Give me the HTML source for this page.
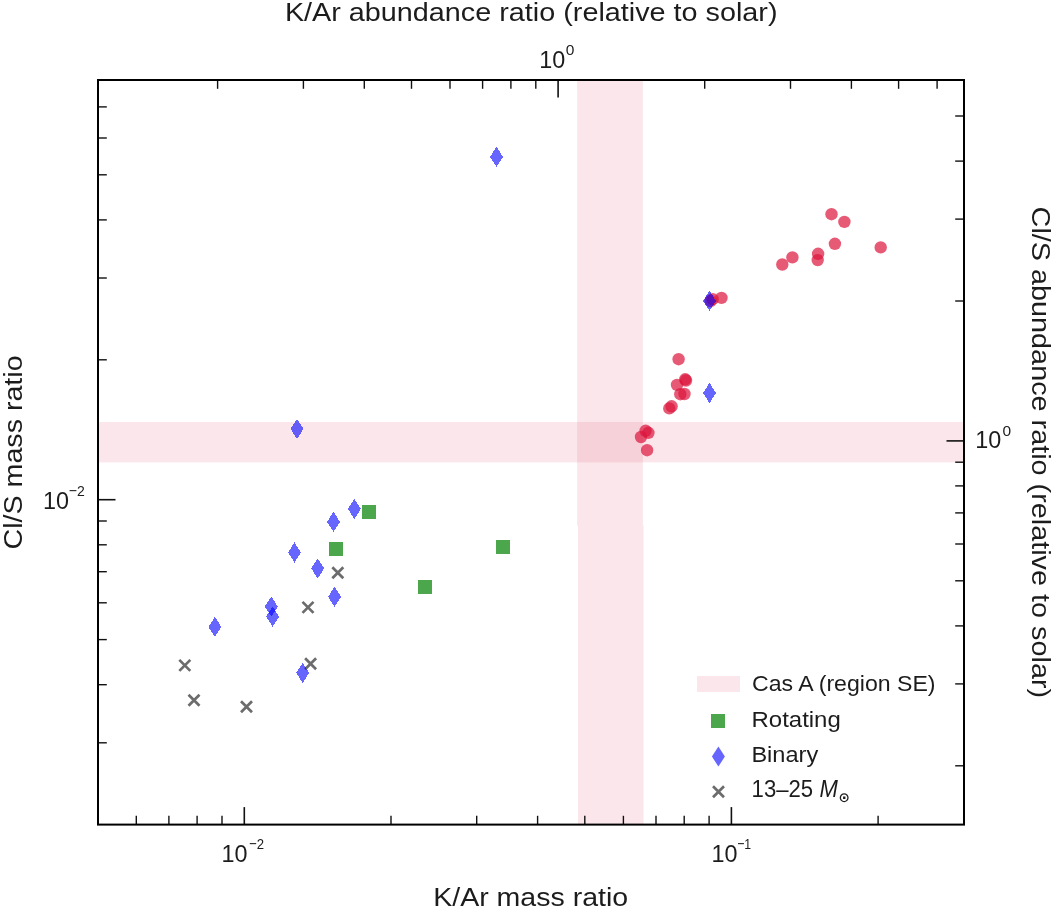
<!DOCTYPE html>
<html lang="en"><head><meta charset="utf-8"><title>K/Ar vs Cl/S</title>
<style>html,body{margin:0;padding:0;background:#fff}body{width:1053px;height:910px;overflow:hidden}svg{will-change:transform}</style></head>
<body>
<svg width="1053" height="910" viewBox="0 0 1053 910" style="display:block">
<rect width="1053" height="910" fill="#fff"/>
<rect x="577.1" y="80.0" width="65.8" height="445.6" fill="rgba(220,20,60,0.10)"/>
<rect x="578.0" y="525.6" width="65.6" height="299.0" fill="rgba(220,20,60,0.10)"/>
<rect x="98.0" y="422.0" width="866.0" height="40.4" fill="rgba(220,20,60,0.10)"/>
<g id="circles"><circle cx="721.5" cy="297.9" r="6.2" fill="rgba(220,20,60,0.7)"/><circle cx="712.6" cy="299.2" r="6.2" fill="rgba(220,20,60,0.7)"/><circle cx="710.6" cy="301.0" r="6.2" fill="rgba(220,20,60,0.7)"/><circle cx="678.6" cy="359.2" r="6.2" fill="rgba(220,20,60,0.7)"/><circle cx="685.2" cy="379.3" r="6.2" fill="rgba(220,20,60,0.7)"/><circle cx="686.0" cy="380.5" r="6.2" fill="rgba(220,20,60,0.7)"/><circle cx="677.0" cy="384.9" r="6.2" fill="rgba(220,20,60,0.7)"/><circle cx="680.3" cy="394.2" r="6.2" fill="rgba(220,20,60,0.7)"/><circle cx="684.5" cy="394.0" r="6.2" fill="rgba(220,20,60,0.7)"/><circle cx="669.3" cy="408.4" r="6.2" fill="rgba(220,20,60,0.7)"/><circle cx="671.6" cy="406.3" r="6.2" fill="rgba(220,20,60,0.7)"/><circle cx="645.6" cy="430.8" r="6.2" fill="rgba(220,20,60,0.7)"/><circle cx="648.4" cy="432.8" r="6.2" fill="rgba(220,20,60,0.7)"/><circle cx="641.0" cy="437.0" r="6.2" fill="rgba(220,20,60,0.7)"/><circle cx="647.1" cy="450.2" r="6.2" fill="rgba(220,20,60,0.7)"/><circle cx="831.5" cy="214.2" r="6.2" fill="rgba(220,20,60,0.7)"/><circle cx="844.4" cy="221.9" r="6.2" fill="rgba(220,20,60,0.7)"/><circle cx="834.9" cy="243.8" r="6.2" fill="rgba(220,20,60,0.7)"/><circle cx="880.7" cy="247.4" r="6.2" fill="rgba(220,20,60,0.7)"/><circle cx="818.1" cy="253.8" r="6.2" fill="rgba(220,20,60,0.7)"/><circle cx="817.7" cy="260.1" r="6.2" fill="rgba(220,20,60,0.7)"/><circle cx="792.4" cy="257.4" r="6.2" fill="rgba(220,20,60,0.7)"/><circle cx="782.3" cy="264.5" r="6.2" fill="rgba(220,20,60,0.7)"/></g>
<g id="crosses"><path d="M332.3 567.3L343.3 578.3M332.3 578.3L343.3 567.3" stroke="#6c6c6c" stroke-width="2.7" fill="none"/><path d="M302.5 601.9L313.5 612.9M302.5 612.9L313.5 601.9" stroke="#6c6c6c" stroke-width="2.7" fill="none"/><path d="M305.1 658.3L316.1 669.3M305.1 669.3L316.1 658.3" stroke="#6c6c6c" stroke-width="2.7" fill="none"/><path d="M179.3 659.9L190.3 670.9M179.3 670.9L190.3 659.9" stroke="#6c6c6c" stroke-width="2.7" fill="none"/><path d="M188.5 694.7L199.5 705.7M188.5 705.7L199.5 694.7" stroke="#6c6c6c" stroke-width="2.7" fill="none"/><path d="M241.0 701.3L252.0 712.3M241.0 712.3L252.0 701.3" stroke="#6c6c6c" stroke-width="2.7" fill="none"/></g>
<g id="squares"><rect x="362.0" y="505.0" width="14" height="14" fill="rgba(0,128,0,0.7)"/><rect x="329.0" y="542.0" width="14" height="14" fill="rgba(0,128,0,0.7)"/><rect x="418.0" y="580.0" width="14" height="14" fill="rgba(0,128,0,0.7)"/><rect x="496.0" y="540.0" width="14" height="14" fill="rgba(0,128,0,0.7)"/></g>
<g id="diamonds" shape-rendering="crispEdges"><path d="M354.4 498.8L360.9 508.9L354.4 519.0L347.9 508.9Z" fill="rgba(0,0,255,0.6)"/><path d="M333.5 511.8L340.0 521.9L333.5 532.0L327.0 521.9Z" fill="rgba(0,0,255,0.6)"/><path d="M294.5 542.4L301.0 552.5L294.5 562.6L288.0 552.5Z" fill="rgba(0,0,255,0.6)"/><path d="M317.7 558.3L324.2 568.4L317.7 578.5L311.2 568.4Z" fill="rgba(0,0,255,0.6)"/><path d="M334.6 586.7L341.1 596.8L334.6 606.9L328.1 596.8Z" fill="rgba(0,0,255,0.6)"/><path d="M271.3 596.5L277.8 606.6L271.3 616.7L264.8 606.6Z" fill="rgba(0,0,255,0.6)"/><path d="M272.6 606.5L279.1 616.6L272.6 626.7L266.1 616.6Z" fill="rgba(0,0,255,0.6)"/><path d="M214.9 616.8L221.4 626.9L214.9 637.0L208.4 626.9Z" fill="rgba(0,0,255,0.6)"/><path d="M302.7 662.7L309.2 672.8L302.7 682.9L296.2 672.8Z" fill="rgba(0,0,255,0.6)"/><path d="M496.5 146.8L503.0 156.9L496.5 167.0L490.0 156.9Z" fill="rgba(0,0,255,0.6)"/><path d="M297.0 418.8L303.5 428.9L297.0 439.0L290.5 428.9Z" fill="rgba(0,0,255,0.6)"/><path d="M709.5 290.8L716.0 300.9L709.5 311.0L703.0 300.9Z" fill="rgba(0,0,255,0.6)"/><path d="M709.5 382.9L716.0 393.0L709.5 403.1L703.0 393.0Z" fill="rgba(0,0,255,0.6)"/></g>
<g id="ticks"><line x1="136.3" x2="136.3" y1="824.6" y2="815.8" stroke="#111" stroke-width="1.4"/><line x1="168.9" x2="168.9" y1="824.6" y2="815.8" stroke="#111" stroke-width="1.4"/><line x1="197.1" x2="197.1" y1="824.6" y2="815.8" stroke="#111" stroke-width="1.4"/><line x1="222.0" x2="222.0" y1="824.6" y2="815.8" stroke="#111" stroke-width="1.4"/><line x1="391.0" x2="391.0" y1="824.6" y2="815.8" stroke="#111" stroke-width="1.4"/><line x1="476.7" x2="476.7" y1="824.6" y2="815.8" stroke="#111" stroke-width="1.4"/><line x1="537.6" x2="537.6" y1="824.6" y2="815.8" stroke="#111" stroke-width="1.4"/><line x1="584.8" x2="584.8" y1="824.6" y2="815.8" stroke="#111" stroke-width="1.4"/><line x1="623.4" x2="623.4" y1="824.6" y2="815.8" stroke="#111" stroke-width="1.4"/><line x1="656.0" x2="656.0" y1="824.6" y2="815.8" stroke="#111" stroke-width="1.4"/><line x1="684.2" x2="684.2" y1="824.6" y2="815.8" stroke="#111" stroke-width="1.4"/><line x1="709.1" x2="709.1" y1="824.6" y2="815.8" stroke="#111" stroke-width="1.4"/><line x1="878.1" x2="878.1" y1="824.6" y2="815.8" stroke="#111" stroke-width="1.4"/><line x1="244.3" x2="244.3" y1="824.6" y2="807.1" stroke="#111" stroke-width="1.6"/><line x1="731.4" x2="731.4" y1="824.6" y2="807.1" stroke="#111" stroke-width="1.6"/><line x1="217.6" x2="217.6" y1="80.0" y2="88.8" stroke="#111" stroke-width="1.4"/><line x1="303.4" x2="303.4" y1="80.0" y2="88.8" stroke="#111" stroke-width="1.4"/><line x1="364.3" x2="364.3" y1="80.0" y2="88.8" stroke="#111" stroke-width="1.4"/><line x1="411.5" x2="411.5" y1="80.0" y2="88.8" stroke="#111" stroke-width="1.4"/><line x1="450.0" x2="450.0" y1="80.0" y2="88.8" stroke="#111" stroke-width="1.4"/><line x1="482.6" x2="482.6" y1="80.0" y2="88.8" stroke="#111" stroke-width="1.4"/><line x1="510.9" x2="510.9" y1="80.0" y2="88.8" stroke="#111" stroke-width="1.4"/><line x1="535.8" x2="535.8" y1="80.0" y2="88.8" stroke="#111" stroke-width="1.4"/><line x1="704.7" x2="704.7" y1="80.0" y2="88.8" stroke="#111" stroke-width="1.4"/><line x1="790.5" x2="790.5" y1="80.0" y2="88.8" stroke="#111" stroke-width="1.4"/><line x1="851.4" x2="851.4" y1="80.0" y2="88.8" stroke="#111" stroke-width="1.4"/><line x1="898.6" x2="898.6" y1="80.0" y2="88.8" stroke="#111" stroke-width="1.4"/><line x1="937.1" x2="937.1" y1="80.0" y2="88.8" stroke="#111" stroke-width="1.4"/><line x1="558.1" x2="558.1" y1="80.0" y2="97.5" stroke="#111" stroke-width="1.6"/><line y1="742.8" y2="742.8" x1="98.0" x2="106.8" stroke="#111" stroke-width="1.4"/><line y1="684.7" y2="684.7" x1="98.0" x2="106.8" stroke="#111" stroke-width="1.4"/><line y1="639.6" y2="639.6" x1="98.0" x2="106.8" stroke="#111" stroke-width="1.4"/><line y1="602.8" y2="602.8" x1="98.0" x2="106.8" stroke="#111" stroke-width="1.4"/><line y1="571.7" y2="571.7" x1="98.0" x2="106.8" stroke="#111" stroke-width="1.4"/><line y1="544.8" y2="544.8" x1="98.0" x2="106.8" stroke="#111" stroke-width="1.4"/><line y1="521.0" y2="521.0" x1="98.0" x2="106.8" stroke="#111" stroke-width="1.4"/><line y1="359.8" y2="359.8" x1="98.0" x2="106.8" stroke="#111" stroke-width="1.4"/><line y1="278.0" y2="278.0" x1="98.0" x2="106.8" stroke="#111" stroke-width="1.4"/><line y1="219.9" y2="219.9" x1="98.0" x2="106.8" stroke="#111" stroke-width="1.4"/><line y1="174.8" y2="174.8" x1="98.0" x2="106.8" stroke="#111" stroke-width="1.4"/><line y1="138.0" y2="138.0" x1="98.0" x2="106.8" stroke="#111" stroke-width="1.4"/><line y1="106.9" y2="106.9" x1="98.0" x2="106.8" stroke="#111" stroke-width="1.4"/><line y1="499.7" y2="499.7" x1="98.0" x2="115.5" stroke="#111" stroke-width="1.6"/><line y1="765.8" y2="765.8" x1="964.0" x2="955.2" stroke="#111" stroke-width="1.4"/><line y1="683.9" y2="683.9" x1="964.0" x2="955.2" stroke="#111" stroke-width="1.4"/><line y1="625.9" y2="625.9" x1="964.0" x2="955.2" stroke="#111" stroke-width="1.4"/><line y1="580.8" y2="580.8" x1="964.0" x2="955.2" stroke="#111" stroke-width="1.4"/><line y1="544.0" y2="544.0" x1="964.0" x2="955.2" stroke="#111" stroke-width="1.4"/><line y1="512.9" y2="512.9" x1="964.0" x2="955.2" stroke="#111" stroke-width="1.4"/><line y1="485.9" y2="485.9" x1="964.0" x2="955.2" stroke="#111" stroke-width="1.4"/><line y1="462.2" y2="462.2" x1="964.0" x2="955.2" stroke="#111" stroke-width="1.4"/><line y1="301.0" y2="301.0" x1="964.0" x2="955.2" stroke="#111" stroke-width="1.4"/><line y1="219.1" y2="219.1" x1="964.0" x2="955.2" stroke="#111" stroke-width="1.4"/><line y1="161.1" y2="161.1" x1="964.0" x2="955.2" stroke="#111" stroke-width="1.4"/><line y1="116.0" y2="116.0" x1="964.0" x2="955.2" stroke="#111" stroke-width="1.4"/><line y1="440.9" y2="440.9" x1="964.0" x2="946.5" stroke="#111" stroke-width="1.6"/></g>
<rect x="98.0" y="80.0" width="866.0" height="744.6" fill="none" stroke="#000" stroke-width="2"/>
<rect x="697" y="676" width="43" height="16" fill="rgba(220,20,60,0.10)"/>
<rect x="711.0" y="714.0" width="14" height="14" fill="rgba(0,128,0,0.7)"/>
<path d="M718.4 746.4L724.9 756.5L718.4 766.6L711.9 756.5Z" fill="rgba(0,0,255,0.6)"/>
<path d="M713.0 786.3L724.0 797.3M713.0 797.3L724.0 786.3" stroke="#6c6c6c" stroke-width="2.7" fill="none"/>
<g font-family='"Liberation Sans", Arial, sans-serif' fill="#1c1c1c">
<text x="752.0" y="691.2" font-size="22" text-anchor="start" textLength="183.5" lengthAdjust="spacingAndGlyphs" >Cas A (region SE)</text>
<text x="751.5" y="726.9" font-size="22" text-anchor="start" textLength="89.3" lengthAdjust="spacingAndGlyphs" >Rotating</text>
<text x="751.4" y="761.8" font-size="22" text-anchor="start" textLength="66.8" lengthAdjust="spacingAndGlyphs" >Binary</text>
<text x="751.6" y="797.0" font-size="23.5"><tspan textLength="61.5" lengthAdjust="spacingAndGlyphs">13–25</tspan><tspan dx="6.3" font-style="italic" textLength="18.4" lengthAdjust="spacingAndGlyphs">M</tspan><tspan dx="0.6" dy="5.4" font-size="13.5" font-weight="bold" font-family="DejaVu Sans, sans-serif">⊙</tspan></text>
<text x="284.9" y="20.8" font-size="26.5" text-anchor="start" textLength="492.6" lengthAdjust="spacingAndGlyphs" >K/Ar abundance ratio (relative to solar)</text>
<text x="433.2" y="905.5" font-size="26.5" text-anchor="start" textLength="195.0" lengthAdjust="spacingAndGlyphs" >K/Ar mass ratio</text>
<g transform="translate(21.8,549.4) rotate(-90)"><text x="0.0" y="0.0" font-size="26.5" text-anchor="start" textLength="194.0" lengthAdjust="spacingAndGlyphs" >Cl/S mass ratio</text></g>
<g transform="translate(1031.8,206.6) rotate(90)"><text x="0.0" y="0.0" font-size="26.5" text-anchor="start" textLength="491.5" lengthAdjust="spacingAndGlyphs" >Cl/S abundance ratio (relative to solar)</text></g>
<text x="221.5" y="862.0" font-size="23.5" textLength="26.0" lengthAdjust="spacingAndGlyphs">10</text><text x="249.0" y="849.0" font-size="15.5" textLength="15.0" lengthAdjust="spacingAndGlyphs">−2</text>
<text x="711.4" y="862.0" font-size="23.5" textLength="26.0" lengthAdjust="spacingAndGlyphs">10</text><text x="737.2" y="849.0" font-size="15.5" textLength="14.0" lengthAdjust="spacingAndGlyphs">−1</text>
<text x="539.2" y="68.0" font-size="23.5" textLength="26.0" lengthAdjust="spacingAndGlyphs">10</text><text x="565.8" y="54.7" font-size="15.5">0</text>
<text x="42.9" y="508.5" font-size="23.5" textLength="26.0" lengthAdjust="spacingAndGlyphs">10</text><text x="68.8" y="495.8" font-size="15.5" textLength="16.0" lengthAdjust="spacingAndGlyphs">−2</text>
<text x="975.3" y="448.0" font-size="23.5" textLength="26.0" lengthAdjust="spacingAndGlyphs">10</text><text x="1002.4" y="435.9" font-size="15.5">0</text>
</g>
</svg>
</body></html>
